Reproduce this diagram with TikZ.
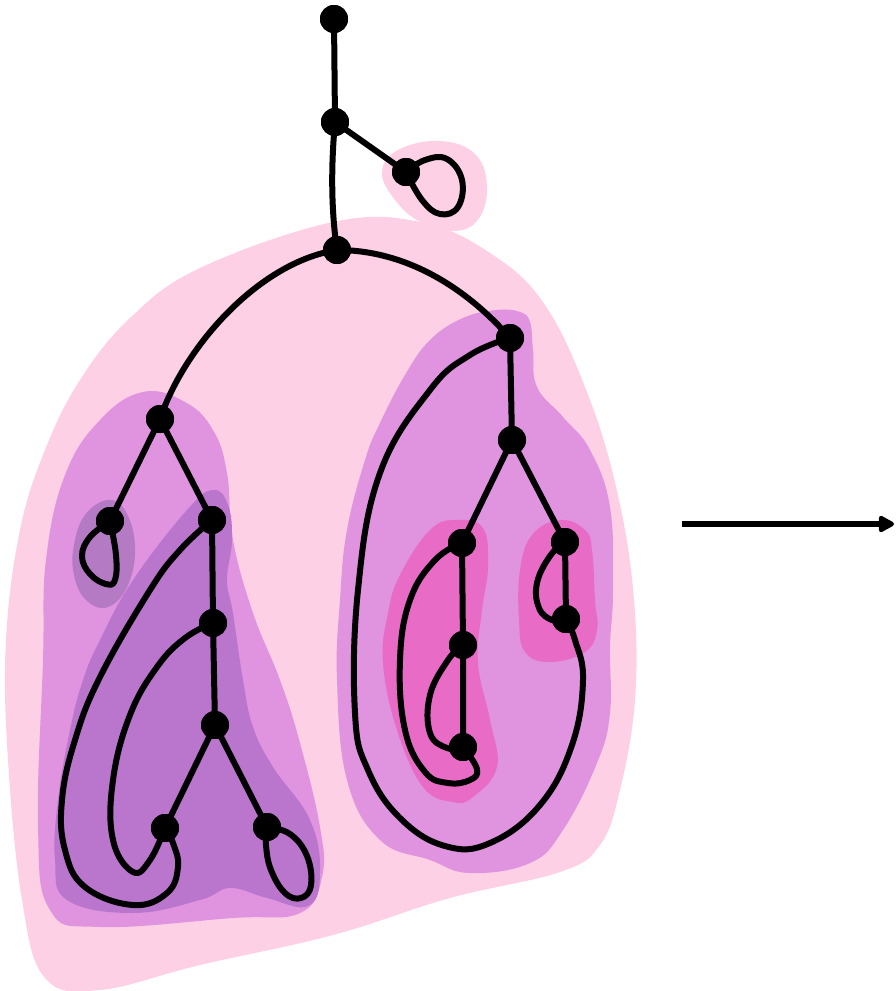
\documentclass[tikz,border=0pt]{standalone}
\usetikzlibrary{arrows.meta}
\definecolor{pinkL}{RGB}{253,208,230}
\definecolor{purpM}{RGB}{224,147,223}
\definecolor{purpD}{RGB}{186,117,205}
\definecolor{purpG}{RGB}{180,122,196}
\definecolor{magB}{RGB}{232,108,197}
\tikzset{
  vtx/.style={circle,fill=black,inner sep=0pt,minimum size=28pt},
  edge/.style={line width=6pt,black,line cap=round,line join=round},
}
\begin{document}
\begin{tikzpicture}[x=1pt,y=-1pt]
\useasboundingbox (0,0) rectangle (895,991);
% blobs
\fill[pinkL] plot[smooth cycle,tension=0.65] coordinates {(333,222) (420,222) (490,253) (545,305) (590,400) (619,500) (634,600) (635,700) (620,790) (600,845) (560,872) (450,898) (333,935) (200,965) (100,990) (45,978) (22,900) (8,760) (6,640) (20,530) (45,450) (80,380) (130,318) (200,268)};
\fill[pinkL] plot[smooth cycle,tension=0.7] coordinates {(382,172) (398,150) (440,141) (476,155) (487,190) (476,222) (450,231) (420,222) (395,200)};
\fill[purpM] plot[smooth cycle,tension=0.7] coordinates {(143,392) (185,402) (213,430) (227,473) (233,540) (253,613) (280,680) (300,743) (320,827) (322,877) (300,913) (233,918) (100,927) (50,910) (38,827) (43,660) (46,560) (65,475) (100,420)};
\fill[purpM] plot[smooth cycle,tension=0.7] coordinates {(463,318) (497,310) (520,312) (530,322) (533,350) (537,387) (563,417) (590,450) (610,507) (613,590) (610,647) (610,713) (597,763) (563,830) (530,863) (470,873) (430,860) (380,840) (347,780) (337,680) (340,600) (347,530) (365,460) (380,423) (405,375) (430,340)};
\fill[purpD] plot[smooth cycle,tension=0.7] coordinates {(213,490) (228,505) (232,540) (227,580) (233,613) (243,680) (253,727) (273,767) (310,820) (320,873) (308,906) (267,898) (230,888) (200,900) (133,913) (67,900) (55,860) (58,800) (70,730) (83,680) (100,640) (133,580) (187,510)};
\fill[purpG] plot[smooth cycle,tension=0.7] coordinates {(74,545) (85,515) (108,500) (126,512) (135,547) (128,585) (108,607) (86,600) (74,575)};
\fill[magB] plot[smooth cycle,tension=0.7] coordinates {(457,520) (483,528) (488,567) (482,610) (478,663) (490,720) (497,767) (473,797) (453,802) (423,787) (397,730) (383,663) (388,613) (400,575) (430,530)};
\fill[magB] plot[smooth cycle,tension=0.7] coordinates {(560,520) (585,530) (592,550) (595,600) (597,630) (585,652) (550,662) (525,652) (519,620) (520,570) (532,535)};
% nodes
\node[vtx] (A) at (334,19) {};
\node[vtx] (B) at (335,122) {};
\node[vtx] (C) at (406,172) {};
\node[vtx] (D) at (337,250) {};
\node[vtx] (L1) at (160,419) {};
\node[vtx] (La) at (110,521) {};
\node[vtx] (Lb) at (212,520) {};
\node[vtx] (Lc) at (213,623) {};
\node[vtx] (Ld) at (215,725) {};
\node[vtx] (Le) at (165,828) {};
\node[vtx] (Lf) at (267,827) {};
\node[vtx] (R1) at (510,338) {};
\node[vtx] (R2) at (512,440) {};
\node[vtx] (R3) at (462,543) {};
\node[vtx] (R4) at (565,542) {};
\node[vtx] (R5) at (463,645) {};
\node[vtx] (R6) at (463,747) {};
\node[vtx] (R7) at (566,619) {};
% edges
\draw[edge] (A.center) -- (B.center) -- (C.center);
\draw[edge] (B.center) .. controls (331,165) and (331,210) .. (D.center);
\draw[edge] (D.center) .. controls (260,262) and (185,345) .. (L1.center);
\draw[edge] (D.center) .. controls (410,250) and (470,292) .. (R1.center);
\draw[edge] (L1.center) -- (La.center);
\draw[edge] (L1.center) -- (Lb.center) -- (Lc.center) -- (Ld.center) -- (Le.center);
\draw[edge] (Ld.center) -- (Lf.center);
\draw[edge] (R1.center) -- (R2.center) -- (R3.center) -- (R5.center) -- (R6.center);
\draw[edge] (R2.center) -- (R4.center) -- (R7.center);
% loops and long curves
\draw[edge] plot[smooth,tension=0.7] coordinates {(C.center) (425,160) (447,159) (462,180) (458,207) (440,214) (422,200) (C.center)};
\draw[edge] plot[smooth,tension=0.7] coordinates {(La.center) (90,537) (82,556) (90,574) (106,584) (115,580) (116,555) (La.center)};
\draw[edge] plot[smooth,tension=0.7] coordinates {(Lf.center) (290,834) (307,856) (311,885) (301,898) (285,893) (271,870) (266,845) (Lf.center)};
\draw[edge] plot[smooth,tension=0.7] coordinates {(Lb.center) (180,550) (150,590) (100,677) (75,740) (62,800) (65,850) (85,887) (133,905) (167,893) (178,867) (173,843) (Le.center)};
\draw[edge] plot[smooth,tension=0.7] coordinates {(Lc.center) (185,638) (157,667) (130,715) (113,780) (113,840) (133,872) (150,860) (Le.center)};
\draw[edge] plot[smooth,tension=0.7] coordinates {(R1.center) (470,355) (430,390) (380,473) (358,590) (355,713) (368,770) (400,818) (445,846) (490,843) (540,805) (572,745) (583,680) (575,640) (R7.center)};
\draw[edge] plot[smooth,tension=0.7] coordinates {(R4.center) (550,556) (537,583) (539,608) (552,620) (R7.center)};
\draw[edge] plot[smooth,tension=0.7] coordinates {(R3.center) (435,560) (410,600) (400,660) (405,730) (425,772) (448,783) (470,780) (477,769) (R6.center)};
\draw[edge] plot[smooth,tension=0.7] coordinates {(R5.center) (448,660) (430,695) (430,733) (447,748) (R6.center)};
% nodes on top of the edges
\foreach \n in {A,B,C,D,L1,La,Lb,Lc,Ld,Le,Lf,R1,R2,R3,R4,R5,R6,R7}{\fill (\n) circle (14pt);}
% arrow
\coordinate (ar0) at (682,524);
\coordinate (ar1) at (894,524);
\draw[line width=5.5pt,-{Triangle[length=18pt,width=18pt,round]}] (ar0) -- (ar1);
\end{tikzpicture}
\end{document}
